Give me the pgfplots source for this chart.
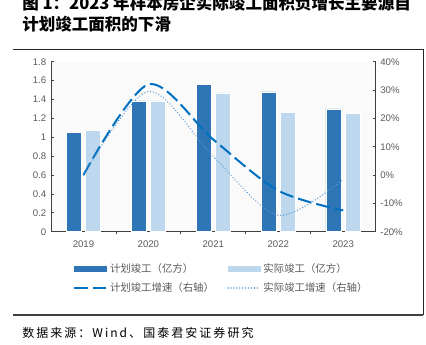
\documentclass[border=0pt]{standalone}
\usepackage{fontspec}
\usepackage{pgfplots}
\pgfplotsset{compat=1.18}
\setmainfont{Liberation Sans}
\newfontfamily\cjk{Noto Sans CJK SC}
\newfontfamily\cjksrc[LetterSpace=17]{Noto Sans CJK SC}
\definecolor{darkbar}{HTML}{2E75B6}
\definecolor{lightbar}{HTML}{BDD7EE}
\definecolor{dashc}{HTML}{0070C0}
\definecolor{dotc}{HTML}{5B9BD5}
\definecolor{txt}{HTML}{595959}
\definecolor{axc}{HTML}{404040}
\begin{document}
\begin{tikzpicture}
\useasboundingbox (0,0) rectangle (319.5pt,258pt);
\begin{axis}[
  at={(38.25pt,84.225pt)}, anchor=south west,
  width=243.5pt, height=127.5pt, scale only axis,
  xmin=-0.5, xmax=4.5, ymin=0, ymax=1.8,
  axis y line*=left, axis x line*=bottom,
  axis line style={axc, line width=0.6pt, -},
  axis background/.style={fill={rgb,255:red,250;green,250;blue,250}},
  xtick={0,1,2,3,4}, xticklabels={2019,2020,2021,2022,2023},
  major x tick style={draw=none},
  minor xtick={0.5,1.5,2.5,3.5},
  ytick={0,0.2,0.4,0.6,0.8,1,1.2,1.4,1.6,1.8},
  tick align=inside, major tick length=2pt, minor tick length=2pt,
  tick style={axc, line width=0.6pt},
  ticklabel style={font=\fontsize{7.2}{8}\selectfont, text=txt},
  xticklabel style={yshift=-1pt},
  yticklabel style={/pgf/number format/fixed,/pgf/number format/precision=1},
  /pgf/number format/assume math mode=true,
  ybar, bar width=0.23,
]
\addplot[fill=darkbar, draw=white, line width=0.4pt, bar shift=-0.15] coordinates {(0,1.05) (1,1.385) (2,1.56) (3,1.48) (4,1.30)};
\addplot[fill=lightbar, draw=white, line width=0.4pt, bar shift=0.15] coordinates {(0,1.07) (1,1.385) (2,1.47) (3,1.26) (4,1.25)};
\end{axis}
\begin{axis}[
  at={(38.25pt,84.225pt)}, anchor=south west,
  width=243.5pt, height=127.5pt, scale only axis,
  xmin=-0.5, xmax=4.5, ymin=-20, ymax=40,
  axis y line*=right, axis x line=none,
  axis line style={axc, line width=0.6pt, -},
  ytick={-20,-10,0,10,20,30,40},
  yticklabel={\pgfmathprintnumber{\tick}\%},
  tick align=inside, major tick length=2pt,
  tick style={axc, line width=0.6pt},
  ticklabel style={font=\fontsize{7.2}{8}\selectfont, text=txt},
  /pgf/number format/assume math mode=true,
  legend columns=2,
  legend cell align=left,
  legend style={at={(axis description cs:0.068,-0.17)}, anchor=north west,
    draw=none, fill=none, inner sep=0pt,
    font=\cjk\fontsize{7.8}{9}\selectfont, text=txt,
    row sep=2pt,
    /tikz/every even column/.append style={column sep=8pt}},
]
\addlegendimage{legend image code/.code={\fill[darkbar] (0pt,-1.9pt) rectangle (24pt,1.9pt);}}
\addlegendentry{计划竣工（亿方）}
\addlegendimage{legend image code/.code={\fill[lightbar] (0pt,-1.9pt) rectangle (24pt,1.9pt);}}
\addlegendentry{实际竣工（亿方）}
\addplot[dashc, line width=1.5pt, dash pattern=on 10.5pt off 3.75pt, smooth,
  legend image code/.code={\draw[dashc, line width=1.5pt, dash pattern=on 10.5pt off 3.75pt] (0pt,0pt)--(24pt,0pt);}]
  coordinates {(0,0) (1,32) (2,12.5) (3,-5.5) (4,-12.5)};
\addlegendentry{计划竣工增速（右轴）}
\addplot[dotc, line width=1.1pt, dash pattern=on 0.01pt off 2.2pt, line cap=round, smooth,
  legend image code/.code={\draw[dotc, line width=1.1pt, dash pattern=on 0.01pt off 2.2pt, line cap=round] (0pt,0pt)--(24pt,0pt);}]
  coordinates {(0,0) (1,29.5) (2,6.5) (3,-14.2) (4,-1.5)};
\addlegendentry{实际竣工增速（右轴）}
\end{axis}
\begin{scope}[yshift=258pt, x=0.75pt, y=-0.75pt]
\draw[line width=0.75pt, black!85] (13,49.3) -- (423,49.3);
\draw[line width=0.75pt, black!85] (423,49.3) -- (423,315);
\draw[line width=1.1pt, black!75] (13,315) -- (423,315);
\node[anchor=base west, inner sep=0pt] at (22,9) {\cjk\bfseries\fontsize{12.4}{14}\selectfont 图 1：2023 年样本房企实际竣工面积负增长主要源自};
\node[anchor=base west, inner sep=0pt] at (22,30.5) {\cjk\bfseries\fontsize{12.4}{14}\selectfont 计划竣工面积的下滑};
\node[anchor=west, inner sep=0pt] at (22,333) {\cjksrc\fontsize{9}{10}\selectfont 数据来源：Wind、国泰君安证券研究};
\end{scope}
\end{tikzpicture}
\end{document}
